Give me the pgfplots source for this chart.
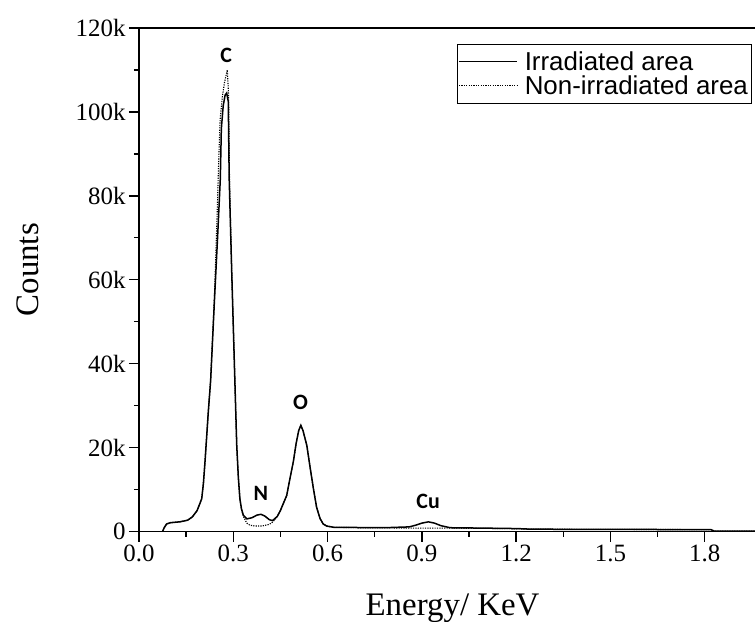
\documentclass[border=0pt]{standalone}
\usepackage{fontspec}
\setmainfont{Liberation Serif}
\newfontfamily\legfont{Liberation Sans}
\newfontfamily\pkfont{Carlito}
\usepackage{pgfplots}
\pgfplotsset{compat=1.18}
\usetikzlibrary{calc}

\begin{document}
\begin{tikzpicture}
\begin{axis}[
    width=616bp, height=503.5bp, scale only axis,
    xmin=0, xmax=1.96,
    ymin=0, ymax=120000,
    scaled y ticks=false,
    axis x line=box, axis y line=left,
    y axis line style={-},
    axis line style={line width=1.6bp},
    xtick pos=bottom, ytick pos=left,
    tick align=outside,
    major tick length=10bp, minor tick length=5bp,
    tick style={line width=1.4bp, black},
    xtick={0,0.3,0.6,0.9,1.2,1.5,1.8},
    xticklabels={0.0,0.3,0.6,0.9,1.2,1.5,1.8},
    ytick={0,20000,40000,60000,80000,100000,120000},
    yticklabels={0,20k,40k,60k,80k,100k,120k},
    minor x tick num=1, minor y tick num=1,
    ticklabel style={font=\fontsize{25}{30}\selectfont},
    xlabel={Energy/ KeV},
    ylabel={Counts},
    xlabel style={font=\fontsize{33}{40}\selectfont, at={(axis description cs:0.509,-0.166)}, anchor=base},
    ylabel style={font=\fontsize{33}{40}\selectfont, at={(axis description cs:-0.180,0.52)}, anchor=center},
    legend style={at={(axis description cs:0.516,0.968)}, anchor=north west,
        draw=black, line width=0.8bp, inner xsep=1bp, inner ysep=5.5bp,
        font=\legfont\fontsize{26}{27}\selectfont,
        row sep=1bp, column sep=5bp,
        nodes={inner xsep=2bp, inner ysep=1.5bp}},
    legend cell align=left,
    legend image code/.code={\draw[#1] (0bp,0bp) -- (58bp,0bp);},
]

% Irradiated area
\addplot[black, line width=1.5bp] coordinates {
(0.075,0)(0.080,900)(0.088,1800)(0.100,2100)(0.130,2300)(0.155,2700)
(0.170,3500)(0.185,5000)(0.1995,7800)(0.205,11500)(0.210,16600)
(0.2205,28500)(0.228,36000)(0.240,55000)(0.250,70000)(0.2587,84000)
(0.262,96000)(0.268,101500)(0.274,104000)(0.279,104500)(0.284,102500)
(0.287,84000)(0.295,62000)(0.305,36000)(0.311,20500)(0.316,13000)
(0.321,7800)(0.326,5400)(0.332,3900)(0.343,3000)(0.360,3300)
(0.375,3900)(0.388,4100)(0.400,3700)(0.415,2800)(0.425,2600)
(0.440,3600)(0.450,5000)(0.460,6800)(0.470,8600)(0.480,12500)
(0.491,16600)(0.500,21000)(0.508,24000)(0.515,25300)(0.522,24000)
(0.534,20500)(0.545,15000)(0.555,10200)(0.565,5800)(0.576,3100)
(0.586,1800)(0.597,1300)(0.620,1000)(0.700,950)(0.800,950)
(0.860,1100)(0.880,1500)(0.900,2000)(0.921,2300)(0.940,2000)
(0.960,1400)(0.990,900)(1.100,800)(1.200,700)(1.250,550)
(1.500,500)(1.820,450)(1.830,100)(1.960,100)
};
\addlegendentry{Irradiated area}

% Non-irradiated area
\addplot[black, line width=1.1bp, dash pattern=on 1.2bp off 1.2bp] coordinates {
(0.075,0)(0.080,900)(0.088,1800)(0.100,2100)(0.130,2300)(0.155,2700)
(0.170,3500)(0.185,5000)(0.1995,7800)(0.205,11500)(0.210,16600)
(0.2205,28500)(0.228,36500)(0.240,56000)(0.248,74000)(0.2535,88000)
(0.258,98000)(0.265,103500)(0.272,107000)(0.281,110000)(0.285,104000)
(0.288,84000)(0.295,62000)(0.305,36000)(0.311,20500)(0.316,13000)
(0.321,7800)(0.326,5400)(0.332,3600)(0.343,2000)(0.353,1500)
(0.370,1300)(0.390,1300)(0.410,1600)(0.422,2000)(0.432,2800)
(0.440,3600)(0.450,5000)(0.460,6800)(0.470,8600)(0.480,12500)
(0.491,16600)(0.500,21000)(0.508,24000)(0.515,25300)(0.522,24000)
(0.534,20500)(0.545,15000)(0.555,10200)(0.565,5800)(0.576,3100)
(0.586,1800)(0.597,1300)(0.620,1000)(0.700,900)(0.800,850)
(0.900,800)(1.000,800)(1.100,750)(1.200,650)(1.250,550)
(1.500,500)(1.820,450)(1.830,100)(1.960,100)
};
\addlegendentry{Non-irradiated area}

\node[font=\pkfont\bfseries\fontsize{22}{24}\selectfont] at (axis cs:0.277,113500) {C};
\node[font=\pkfont\bfseries\fontsize{22}{24}\selectfont] at (axis cs:0.388,9200) {N};
\node[font=\pkfont\bfseries\fontsize{22}{24}\selectfont] at (axis cs:0.514,30700) {O};
\node[font=\pkfont\bfseries\fontsize{22}{24}\selectfont] at (axis cs:0.920,7100) {Cu};
\end{axis}
\pgfresetboundingbox
\path[use as bounding box] ($(current axis.south west)+(-139bp,-90.5bp)$) rectangle ($(current axis.north east)+(0bp,28bp)$);
\end{tikzpicture}
\end{document}
